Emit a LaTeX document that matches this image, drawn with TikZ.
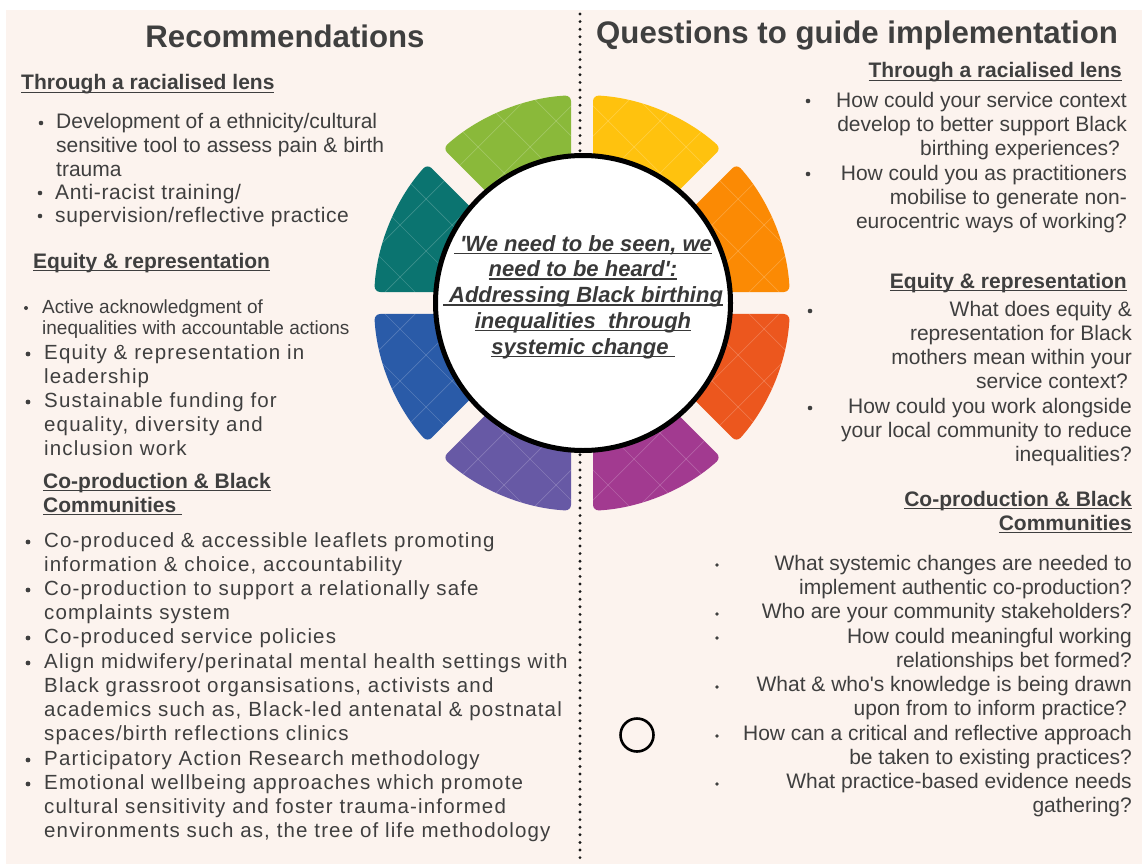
\documentclass[tikz,border=0pt]{standalone}
\usepackage{fontspec}
\setmainfont{Liberation Sans}[Ligatures=TeXOff]
\newfontfamily\spacedfont{Liberation Sans}[Ligatures=TeXOff, LetterSpace=5.6]
\newfontfamily\lightfont{Liberation Sans}[Ligatures=TeXOff, LetterSpace=3]
\definecolor{tc}{HTML}{3F3F3F}
\definecolor{bgc}{RGB}{252,243,238}
\definecolor{segor}{HTML}{FB8A04}
\definecolor{segye}{HTML}{FFC20E}
\definecolor{seggr}{HTML}{8AB93A}
\definecolor{segte}{HTML}{0B7470}
\definecolor{segbl}{HTML}{2A5BA8}
\definecolor{segpu}{HTML}{6759A5}
\definecolor{segma}{HTML}{A23A90}
\definecolor{segre}{HTML}{EC571E}
\newcommand\myul[1]{\setbox0=\hbox{#1}\rlap{\rule[-3pt]{\wd0}{1.4pt}}\box0}
\newcommand\segpath[2]{(#1+5.26:120) -- (#1+3.03:208) arc[start angle=#1+3.03, end angle=#2-3.03, radius=208] -- (#2-5.26:120) arc[start angle=#2-5.26, end angle=#1+5.26, radius=120] -- cycle}
\tikzset{
 ttl/.style={font=\bfseries\fontsize{31.2}{36}\selectfont, text=tc, inner sep=0},
 hd/.style={font=\bfseries\fontsize{21}{24.2}\selectfont, text=tc, inner sep=0},
 itm/.style={font=\fontsize{21}{24}\selectfont, text=tc, inner sep=0, align=left, anchor=base west},
 litm/.style={font=\lightfont\fontsize{21}{24}\selectfont, text=tc, inner sep=0, align=left, anchor=base west},
 sitm/.style={font=\spacedfont\fontsize{20.5}{24.2}\selectfont, text=tc, inner sep=0, align=left, anchor=base west},
 smitm/.style={font=\fontsize{19}{21}\selectfont, text=tc, inner sep=0, align=left, anchor=base west},
 qitm/.style={font=\fontsize{21}{24.2}\selectfont, text=tc, inner sep=0, align=right, anchor=base east},
 bul/.style={fill=tc},
 ctext/.style={font=\bfseries\itshape\fontsize{22}{25.8}\selectfont, text=tc!90!black, inner sep=0, align=center, anchor=base}
}
\begin{document}
\begin{tikzpicture}[x=1pt,y=-1pt]
\useasboundingbox (0,0) rectangle (1142,864);
\fill[white] (0,0) rectangle (1142,864);
\fill[bgc] (6,10) rectangle (1142,864);
% divider
\draw[line width=3.2pt, line cap=round, dash pattern=on 0pt off 7.6pt, black!90] (580,14) -- (580,864);
% wheel
\begin{scope}[shift={(582,303)}, x=1pt, y=1pt]
 \foreach \a/\col in {0/segor,45/segye,90/seggr,135/segte,180/segbl,225/segpu,270/segma,315/segre}{
   \fill[\col, rounded corners=6pt] \segpath{\a}{\a+45};
 }
 \begin{scope}
  \clip[rounded corners=6pt] \segpath{0}{45} \segpath{45}{90} \segpath{90}{135} \segpath{135}{180} \segpath{180}{225} \segpath{225}{270} \segpath{270}{315} \segpath{315}{360};
  \foreach \k in {-8,...,8}{
    \draw[white, opacity=.2, line width=.7pt] (-300,\k*52-300) -- (300,\k*52+300);
    \draw[white, opacity=.2, line width=.7pt] (-300,\k*52+300) -- (300,\k*52-300);
  }
 \end{scope}
\end{scope}
\node[circle, draw=black, fill=white, line width=5pt, minimum size=295pt, inner sep=0] (hub) at (583,303) {};
\node[ctext] (ct) at (583,354.2) {\myul{\ 'We need to be seen, we}\\\myul{need to be heard':}\\\myul{\ Addressing Black birthing}\\\myul{inequalities\ \ through}\\\myul{systemic change\ }};

% titles
\node[ttl, anchor=base] (t1) at (285,48) {Recommendations};
\node[ttl, anchor=base west] (t2) at (596,44) {Questions to guide implementation};

% left column
\node[hd, anchor=base west] (lh1) at (21,90) {\myul{Through a racialised lens}};
\node[itm] (l1) at (56,176) {Development of a ethnicity/cultural\\sensitive tool to assess pain \& birth\\trauma};
\node[litm] (l2) at (55,199) {Anti-racist training/};
\node[litm] (l3) at (55,222) {supervision/reflective practice};
\fill[bul] (41,123) circle (2.3);
\fill[bul] (40,193) circle (2.3);
\fill[bul] (40,216) circle (2.3);

\node[hd, anchor=base west] (lh2) at (33,268) {\myul{Equity \& representation}};
\node[smitm] (l4) at (42,334) {Active acknowledgment of\\inequalities with accountable actions};
\node[sitm] (l5) at (44,383.2) {Equity \& representation in\\leadership};
\node[sitm] (l6) at (44,455.4) {Sustainable funding for\\equality, diversity and\\inclusion work};
\fill[bul] (26,308) circle (2);
\fill[bul] (28,354) circle (2.4);
\fill[bul] (28,402) circle (2.4);

\node[hd, anchor=base west, align=left] (lh3) at (43,512.2) {\myul{Co-production \& Black}\\\myul{Communities\ }};
\node[sitm] (l7) at (44,571.2) {Co-produced \& accessible leaflets promoting\\information \& choice, accountability};
\node[sitm] (l8) at (44,619.2) {Co-production to support a relationally safe\\complaints system};
\node[sitm] (l9) at (44,643) {Co-produced service policies};
\node[sitm] (l10) at (44,740.6) {Align midwifery/perinatal mental health settings with\\Black grassroot organsisations, activists and\\academics such as, Black-led antenatal \& postnatal\\spaces/birth reflections clinics};
\node[sitm] (l11) at (44,765) {Participatory Action Research methodology};
\node[sitm] (l12) at (44,837.4) {Emotional wellbeing approaches which promote\\cultural sensitivity and foster trauma-informed\\environments such as, the tree of life methodology};
\foreach \yy in {542,590,638,663,760,784}{\fill[bul] (28,\yy) circle (2.4);}

% right column
\node[hd, anchor=base east] (rh1) at (1122,78) {\myul{Through a racialised lens}};
\node[qitm] (q1) at (1127,155.4) {How could your service context\\develop to better support Black\\birthing experiences?\hspace*{7pt}};
\node[qitm] (q2) at (1127,228.4) {How could you as practitioners\\mobilise to generate non-\\eurocentric ways of working?};
\fill[bul] (808,101) circle (2.3);
\fill[bul] (808,174) circle (2.3);

\node[hd, anchor=base east] (rh2) at (1127,288) {\myul{Equity \& representation}};
\node[qitm] (q3) at (1132,388.6) {What does equity \&\\representation for Black\hspace*{5pt}\\mothers mean within your\\service context?\hspace*{4pt}};
\node[qitm] (q4) at (1132,461.4) {How could you work alongside\\your local community to reduce\\inequalities?};
\fill[bul] (810,311) circle (2.3);
\fill[bul] (810,408) circle (2.3);

\node[hd, anchor=base east, align=right] (rh3) at (1132,530.2) {\myul{Co-production \& Black}\\\myul{Communities}};
\node[qitm] (q5) at (1132,594.2) {What systemic changes are needed to\\implement authentic co-production?};
\node[qitm] (q6) at (1132,618) {Who are your community stakeholders?};
\node[qitm] (q7) at (1132,667.2) {How could meaningful working\\relationships bet formed?};
\node[qitm] (q8) at (1132,715.2) {What \& who's knowledge is being drawn\\upon from to inform practice?\hspace*{5pt}};
\node[qitm] (q9) at (1132,764.2) {How can a critical and reflective approach\\be taken to existing practices?};
\node[qitm] (q10) at (1132,812.2) {What practice-based evidence needs\\gathering?};
\foreach \yy in {565,614,638,687,736,784}{\fill[bul] (717,\yy) circle (1.9);}

\node[circle, draw=black, line width=2.6pt, minimum size=33pt, inner sep=0] (ring) at (637,735) {};
\end{tikzpicture}
\end{document}
